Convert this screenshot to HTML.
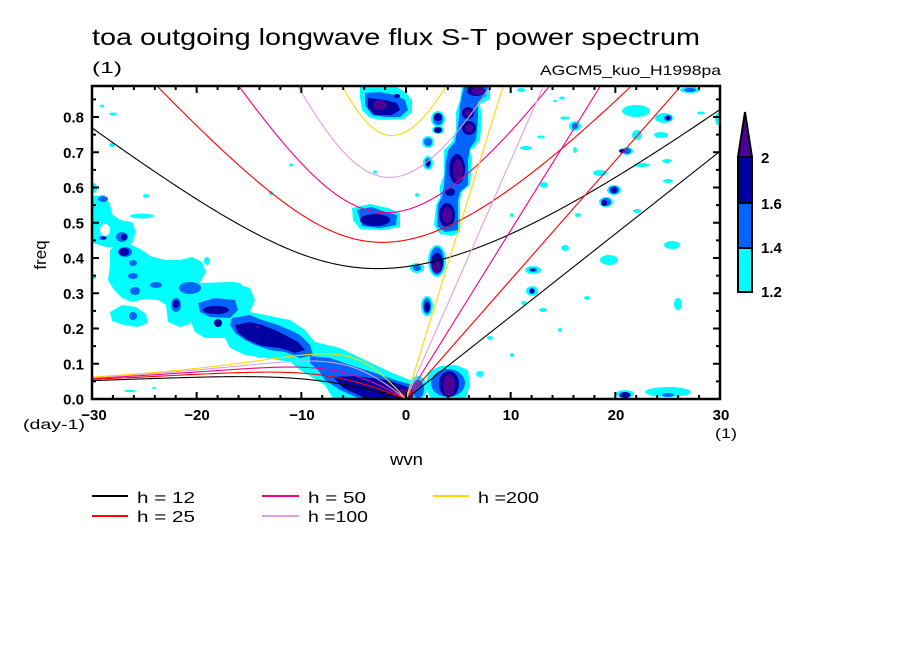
<!DOCTYPE html>
<html><head><meta charset="utf-8"><style>
html,body{margin:0;padding:0;background:#fff;}
svg{display:block;font-family:"Liberation Sans",sans-serif;}
</style></head><body>
<svg id="sv" width="904" height="654" viewBox="0 0 904 654" xmlns="http://www.w3.org/2000/svg">
<defs><clipPath id="clip"><rect x="92" y="86" width="628" height="313"/></clipPath></defs>
<rect width="904" height="654" fill="#fff"/>
<g clip-path="url(#clip)">
<!-- cyan -->
<g fill="#00ffff">
<ellipse cx="94" cy="188" rx="3" ry="5"/>
<polygon points="92,196 104,195 110,204 112,214 120,220 132,222 136,232 132,244 120,247 106,247 96,244 92,243"/>
<polygon points="110,250 118,243 132,245 142,250 150,256 165,260 180,260 192,257 202,262 206,272 200,282 206,292 198,300 192,312 190,324 180,327 168,322 166,305 158,300 145,299 132,302 122,298 114,290 108,280 110,266"/>
<polygon points="110,312 122,305 136,307 146,314 148,323 138,327 124,325 112,321"/>
<polygon points="200,283 230,282 250,288 255,300 250,312 265,315 290,320 305,330 315,342 340,348 365,360 390,372 410,380 420,388 420,399 333,399 325,385 300,370 290,362 265,358 245,355 230,348 225,338 205,338 195,332 190,320 192,305 198,290"/>
<ellipse cx="142" cy="216" rx="12" ry="2.5"/>
<ellipse cx="146" cy="196" rx="3" ry="2"/><ellipse cx="113" cy="114" rx="4" ry="1.5"/><ellipse cx="102" cy="106" rx="2" ry="1.5"/>
<ellipse cx="112" cy="145" rx="3" ry="2"/><ellipse cx="291" cy="165" rx="2" ry="1.5"/><ellipse cx="271" cy="193" rx="2" ry="2"/>
<ellipse cx="207" cy="261" rx="3" ry="4"/><ellipse cx="260" cy="356" rx="3" ry="2"/><ellipse cx="290" cy="330" rx="2" ry="4"/>
<ellipse cx="130" cy="391" rx="6" ry="1.2"/><ellipse cx="154" cy="388" rx="2" ry="1"/><ellipse cx="94" cy="277" rx="2" ry="2"/>
<ellipse cx="232" cy="285" rx="10" ry="3"/>
<polygon points="462,86 490,86 490,99 480,104 482,118 480,140 474,148 470,150 472,160 470,185 462,192 460,200 460,232 452,236 440,234 434,225 436,205 440,198 440,186 444,175 444,150 452,142 456,130 456,112 460,100"/>
<ellipse cx="437" cy="261" rx="9" ry="16"/>
<polygon points="360,86 395,86 405,92 412,100 412,112 404,119 385,120 370,118 362,110 360,98"/>
<polygon points="352,208 370,204 388,208 400,213 400,227 383,230 360,229 353,220"/>
<polygon points="428,372 440,366 456,365 468,370 470,385 466,398 430,398 426,386"/>
<ellipse cx="418" cy="388" rx="9" ry="12"/>
<ellipse cx="438" cy="119" rx="7" ry="8"/><ellipse cx="438" cy="130" rx="6" ry="4"/><ellipse cx="428" cy="142" rx="6" ry="6"/>
<ellipse cx="428" cy="163" rx="5" ry="7"/><ellipse cx="417" cy="268" rx="7" ry="5"/><ellipse cx="427" cy="306" rx="6" ry="10"/>
<ellipse cx="533" cy="270" rx="8" ry="4"/><ellipse cx="532" cy="291" rx="6" ry="5"/><ellipse cx="524" cy="303" rx="3" ry="2"/>
<ellipse cx="543" cy="310" rx="4" ry="2"/><ellipse cx="480" cy="374" rx="4" ry="3"/><ellipse cx="490" cy="338" rx="3" ry="2"/>
<ellipse cx="375" cy="172" rx="2" ry="1.5"/><ellipse cx="417" cy="195" rx="2" ry="2"/><ellipse cx="512" cy="215" rx="2" ry="2"/>
<ellipse cx="521" cy="90" rx="4" ry="2"/><ellipse cx="562" cy="98" rx="3" ry="1.5"/><ellipse cx="555" cy="101" rx="2" ry="1"/>
<ellipse cx="565" cy="118" rx="5" ry="1.5"/><ellipse cx="575" cy="126" rx="6" ry="5"/><ellipse cx="541" cy="137" rx="4" ry="1.5"/>
<ellipse cx="526" cy="148" rx="6" ry="2"/><ellipse cx="575" cy="150" rx="2" ry="3"/><ellipse cx="636" cy="111" rx="14" ry="6"/>
<ellipse cx="664" cy="118" rx="9" ry="5"/><ellipse cx="637" cy="135" rx="5" ry="5"/><ellipse cx="661" cy="135" rx="7" ry="3"/>
<ellipse cx="627" cy="151" rx="6" ry="4"/><ellipse cx="667" cy="161" rx="5" ry="2"/><ellipse cx="642" cy="165" rx="8" ry="2"/>
<ellipse cx="668" cy="181" rx="5" ry="2"/><ellipse cx="614" cy="190" rx="7" ry="5"/><ellipse cx="606" cy="202" rx="7" ry="5"/>
<ellipse cx="637" cy="211" rx="4" ry="2"/><ellipse cx="672" cy="245" rx="8" ry="4"/><ellipse cx="609" cy="260" rx="9" ry="5"/>
<ellipse cx="678" cy="304" rx="4" ry="6"/><ellipse cx="690" cy="90" rx="10" ry="3"/><ellipse cx="701" cy="113" rx="4" ry="1.5"/>
<ellipse cx="718" cy="119" rx="3" ry="6"/><ellipse cx="544" cy="185" rx="4" ry="3"/><ellipse cx="600" cy="173" rx="7" ry="3"/>
<ellipse cx="625" cy="394" rx="9" ry="4"/><ellipse cx="668" cy="392" rx="23" ry="5"/>
<ellipse cx="565" cy="248" rx="4" ry="3"/><ellipse cx="587" cy="298" rx="3" ry="2"/><ellipse cx="578" cy="215" rx="3" ry="2"/>
<ellipse cx="560" cy="330" rx="2" ry="2"/><ellipse cx="512" cy="355" rx="2" ry="2"/>
</g>
<g fill="#fff"><ellipse cx="105" cy="230" rx="5" ry="6"/><ellipse cx="386" cy="97" rx="4" ry="2.5"/></g>
<!-- medium blue -->
<g fill="#0064ff">
<ellipse cx="125" cy="252" rx="7" ry="5"/><ellipse cx="133" cy="263" rx="4" ry="3"/><ellipse cx="133" cy="276" rx="5" ry="3"/>
<ellipse cx="135" cy="291" rx="5" ry="4"/><ellipse cx="156" cy="285" rx="6" ry="3"/>
<ellipse cx="103" cy="199" rx="5" ry="3"/><ellipse cx="103" cy="238" rx="4" ry="2"/><ellipse cx="122" cy="237" rx="6" ry="5"/>
<ellipse cx="190" cy="288" rx="11" ry="6"/><ellipse cx="176" cy="305" rx="5" ry="7"/><ellipse cx="133" cy="316" rx="4" ry="4"/>
<polygon points="198,303 215,298 235,300 238,310 230,318 210,317 200,312"/>
<polygon points="232,318 250,315 262,320 278,325 290,330 300,335 310,345 313,355 300,358 285,352 270,350 255,345 245,340 235,333 230,325"/>
<polygon points="310,356 330,358 350,365 375,373 395,380 413,385 413,399 360,399 340,390 325,380 318,370 310,363"/>
<ellipse cx="448" cy="383" rx="17" ry="14"/><ellipse cx="418" cy="389" rx="6" ry="9"/>
<polygon points="464,86 488,86 486,96 478,102 478,120 476,140 470,148 468,160 468,185 460,192 458,200 458,230 445,232 437,226 438,205 442,196 444,185 446,160 448,150 455,142 458,125 460,105"/>
<ellipse cx="437" cy="261" rx="7" ry="14"/>
<polygon points="365,93 380,92 395,95 405,100 408,110 400,117 385,117 372,115 365,105"/>
<polygon points="357,210 372,207 385,212 397,215 396,225 380,228 362,226"/>
<ellipse cx="438" cy="119" rx="5" ry="6"/><ellipse cx="438" cy="130" rx="4" ry="3"/><ellipse cx="428" cy="142" rx="4" ry="4"/>
<ellipse cx="428" cy="163" rx="3" ry="5"/><ellipse cx="417" cy="268" rx="4" ry="3"/><ellipse cx="427" cy="306" rx="4" ry="8"/>
<ellipse cx="533" cy="270" rx="4" ry="2"/><ellipse cx="532" cy="291" rx="3" ry="3"/><ellipse cx="575" cy="126" rx="3" ry="3"/>
<ellipse cx="627" cy="151" rx="4" ry="3"/><ellipse cx="614" cy="190" rx="5" ry="4"/><ellipse cx="606" cy="202" rx="5" ry="4"/>
<ellipse cx="668" cy="118" rx="4" ry="3"/><ellipse cx="690" cy="90" rx="6" ry="2"/><ellipse cx="625" cy="395" rx="6" ry="3"/>
<ellipse cx="668" cy="395" rx="6" ry="2"/>
</g>
<!-- dark blue -->
<g fill="#0000a0">
<ellipse cx="124" cy="252" rx="5" ry="4"/><ellipse cx="216" cy="310" rx="13" ry="4"/><ellipse cx="218" cy="323" rx="4" ry="4"/>
<ellipse cx="176" cy="304" rx="3" ry="4"/><ellipse cx="104" cy="238" rx="2" ry="1.5"/><ellipse cx="124" cy="237" rx="3" ry="3"/>
<polygon points="235,325 250,322 262,325 275,330 285,335 298,342 305,350 295,353 280,348 262,346 248,340 238,333"/>
<polygon points="333,377 355,376 387,380 405,386 413,390 413,399 367,399 343,388"/>
<ellipse cx="449" cy="384" rx="10" ry="13"/>
<ellipse cx="468" cy="113" rx="6" ry="6"/><ellipse cx="469" cy="128" rx="7" ry="7"/><ellipse cx="457" cy="169" rx="8" ry="15"/>
<ellipse cx="450" cy="192" rx="5" ry="4"/><ellipse cx="447" cy="215" rx="8" ry="12"/><ellipse cx="437" cy="263" rx="6" ry="10"/>
<ellipse cx="476" cy="91" rx="9" ry="5"/>
<polygon points="368,98 385,100 397,103 400,110 392,115 375,115 368,108"/>
<ellipse cx="375" cy="220" rx="15" ry="6"/>
<ellipse cx="438" cy="117" rx="4" ry="4"/><ellipse cx="438" cy="130" rx="4" ry="3"/><ellipse cx="428" cy="163" rx="2" ry="3"/>
<ellipse cx="427" cy="307" rx="3" ry="5"/><ellipse cx="622" cy="151" rx="3" ry="2"/><ellipse cx="614" cy="190" rx="3" ry="3"/>
<ellipse cx="604" cy="203" rx="3" ry="3"/><ellipse cx="625" cy="395" rx="5" ry="3"/><ellipse cx="668" cy="118" rx="2" ry="2"/>
<ellipse cx="533" cy="270" rx="2" ry="1"/><ellipse cx="532" cy="291" rx="2" ry="2"/><ellipse cx="397" cy="96" rx="3" ry="2"/>
</g>
<!-- purple -->
<g fill="#4b0096">
<polygon points="400,388 413,390 413,399 400,399"/>
<ellipse cx="449" cy="385" rx="6" ry="11"/><ellipse cx="458" cy="170" rx="5" ry="11"/><ellipse cx="447" cy="215" rx="5" ry="8"/>
<ellipse cx="437" cy="267" rx="4" ry="6"/><ellipse cx="478" cy="91" rx="6" ry="4"/><ellipse cx="380" cy="105" rx="7" ry="5"/>
<ellipse cx="468" cy="113" rx="3" ry="3"/><ellipse cx="469" cy="128" rx="4" ry="4"/><ellipse cx="258" cy="327" rx="2" ry="1.5"/>
</g>
<g id="curves" fill="none" stroke-width="1.1"></g>
</g>
<!-- frame -->
<rect x="92" y="86" width="628" height="313" fill="none" stroke="#000" stroke-width="2.5"/>
<path stroke="#000" stroke-width="2" fill="none" d="M196.67 399v-7M301.33 399v-7M406 399v-7M510.67 399v-7M615.33 399v-7
M112.93 399v-4M133.87 399v-4M154.8 399v-4M175.73 399v-4M217.6 399v-4M238.53 399v-4M259.47 399v-4M280.4 399v-4M322.27 399v-4M343.2 399v-4M364.13 399v-4M385.07 399v-4M426.93 399v-4M447.87 399v-4M468.8 399v-4M489.73 399v-4M531.6 399v-4M552.53 399v-4M573.47 399v-4M594.4 399v-4M636.27 399v-4M657.2 399v-4M678.13 399v-4M699.07 399v-4
M196.67 86v7M301.33 86v7M406 86v7M510.67 86v7M615.33 86v7
M112.93 86v4M133.87 86v4M154.8 86v4M175.73 86v4M217.6 86v4M238.53 86v4M259.47 86v4M280.4 86v4M322.27 86v4M343.2 86v4M364.13 86v4M385.07 86v4M426.93 86v4M447.87 86v4M468.8 86v4M489.73 86v4M531.6 86v4M552.53 86v4M573.47 86v4M594.4 86v4M636.27 86v4M657.2 86v4M678.13 86v4M699.07 86v4
M92 363.75h7M92 328.5h7M92 293.25h7M92 258h7M92 222.75h7M92 187.5h7M92 152.25h7M92 117h7
M92 381.38h4M92 346.13h4M92 310.88h4M92 275.63h4M92 240.38h4M92 205.13h4M92 169.88h4M92 134.63h4M92 99.38h4
M720 363.75h-7M720 328.5h-7M720 293.25h-7M720 258h-7M720 222.75h-7M720 187.5h-7M720 152.25h-7M720 117h-7
M720 381.38h-4M720 346.13h-4M720 310.88h-4M720 275.63h-4M720 240.38h-4M720 205.13h-4M720 169.88h-4M720 134.63h-4M720 99.38h-4"/>
<!-- titles -->
<text x="92" y="45" font-size="23" textLength="608" lengthAdjust="spacingAndGlyphs">toa outgoing longwave flux S-T power spectrum</text>
<text x="92" y="73" font-size="16" textLength="30" lengthAdjust="spacingAndGlyphs">(1)</text>
<text x="540" y="75" font-size="14" textLength="181" lengthAdjust="spacingAndGlyphs">AGCM5_kuo_H1998pa</text>
<!-- y labels -->
<g font-size="15" font-weight="bold" text-anchor="end">
<text x="84" y="404.5">0.0</text><text x="84" y="369.3">0.1</text><text x="84" y="334">0.2</text>
<text x="84" y="298.8">0.3</text><text x="84" y="263.5">0.4</text><text x="84" y="228.3">0.5</text>
<text x="84" y="193">0.6</text><text x="84" y="157.8">0.7</text><text x="84" y="122.5">0.8</text>
</g>
<g font-size="15" font-weight="bold" text-anchor="middle">
<text x="94" y="420">−30</text><text x="197" y="420">−20</text><text x="302" y="420">−10</text>
<text x="406" y="420">0</text><text x="511" y="420">10</text><text x="616" y="420">20</text><text x="721" y="420">30</text>
</g>
<text x="23" y="429" font-size="14" textLength="62" lengthAdjust="spacingAndGlyphs">(day-1)</text>
<text x="715" y="438" font-size="14" textLength="22" lengthAdjust="spacingAndGlyphs">(1)</text>
<text x="390" y="465" font-size="17" textLength="33" lengthAdjust="spacingAndGlyphs">wvn</text>
<text transform="translate(46,255) rotate(-90)" font-size="17" text-anchor="middle">freq</text>
<!-- colorbar -->
<g stroke="#000" stroke-width="2">
<polygon points="745,112 752,157 738,157" fill="#4b0096"/>
<rect x="738" y="157" width="14" height="46" fill="#0000a0"/>
<rect x="738" y="203" width="14" height="45" fill="#0064ff"/>
<rect x="738" y="248" width="14" height="44" fill="#00ffff"/>
</g>
<g font-size="15" font-weight="bold">
<text x="761" y="163">2</text><text x="761" y="209">1.6</text><text x="761" y="253">1.4</text><text x="761" y="297">1.2</text>
</g>
<!-- legend -->
<g stroke-width="2">
<line x1="92" y1="496" x2="128" y2="496" stroke="#000"/>
<line x1="92" y1="516" x2="128" y2="516" stroke="#ff0000"/>
<line x1="262" y1="496" x2="299" y2="496" stroke="#f0008c"/>
<line x1="262" y1="516" x2="299" y2="516" stroke="#dda0dd"/>
<line x1="433" y1="496" x2="469" y2="496" stroke="#ffd700"/>
</g>
<g font-size="16" xml:space="preserve">
<text x="137" y="503" textLength="58" lengthAdjust="spacingAndGlyphs">h = 12</text>
<text x="137" y="522" textLength="58" lengthAdjust="spacingAndGlyphs">h = 25</text>
<text x="308" y="503" textLength="58" lengthAdjust="spacingAndGlyphs">h = 50</text>
<text x="308" y="522" textLength="60" lengthAdjust="spacingAndGlyphs">h =100</text>
<text x="478" y="503" textLength="61" lengthAdjust="spacingAndGlyphs">h =200</text>
</g>
</svg>
<script>
(function(){
var g=9.81,Om=7.292e-5,a=6.371e6,beta=2*Om/a,cpd=86400/(2*Math.PI);
function X(s){return 406+s*314/30;}
function Y(f){return 399-f*352.5;}
var hs=[[12,'#000000'],[25,'#ff0000'],[50,'#f0008c'],[100,'#dda0dd'],[200,'#ffd700']];
var G=document.getElementById('curves'),ns='http://www.w3.org/2000/svg';
function add(d,col){var p=document.createElementNS(ns,'path');p.setAttribute('d',d);p.setAttribute('stroke',col);G.appendChild(p);}
function root(K,W){for(var i=0;i<80;i++){var F=W*W*W-(K*K+3)*W-K,dF=3*W*W-(K*K+3);if(Math.abs(dF)<1e-12)break;var n=W-F/dF;if(Math.abs(n-W)<1e-13){W=n;break;}W=n;}return W;}
hs.forEach(function(h){
 var c=Math.sqrt(g*h[0]),L=Math.sqrt(c/beta),w0=Math.sqrt(beta*c)*cpd,col=h[1],s,K,W,d;
 var f30=30/a*c*cpd;
 add('M'+X(0)+' '+Y(0)+'L'+X(30)+' '+Y(f30),col);
 d='';
 for(s=-30;s<=0.0001;s+=0.25){K=s/a*L;W=root(K,-K/(K*K+3));d+=(d?'L':'M')+X(s).toFixed(2)+' '+Y(W*w0).toFixed(2);}
 add(d,col);
 d='';
 for(s=-30;s<=30.0001;s+=0.25){K=s/a*L;W=root(K,Math.sqrt(K*K+3)+1);d+=(d?'L':'M')+X(s).toFixed(2)+' '+Y(W*w0).toFixed(2);}
 add(d,col);
});
})();
</script>
</body></html>
